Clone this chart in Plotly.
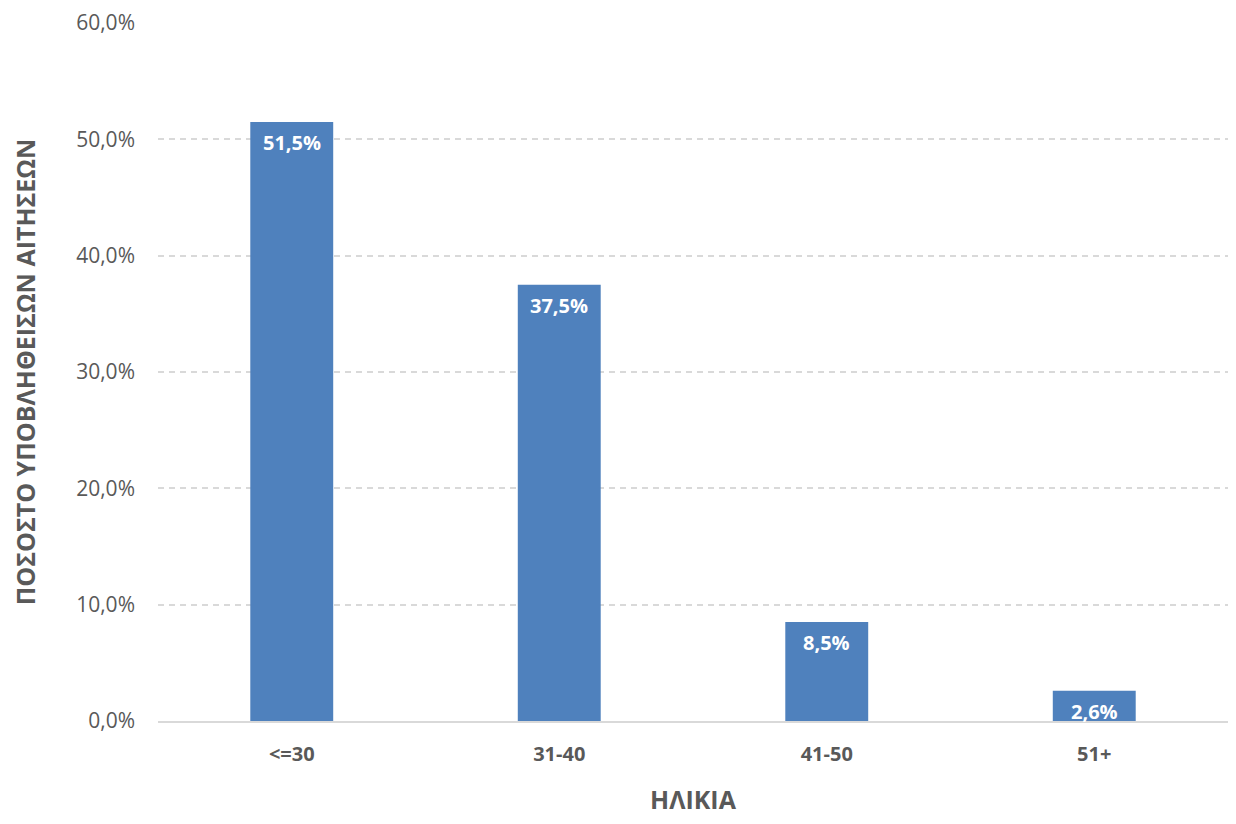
import plotly.graph_objects as go

categories = ["<=30", "31-40", "41-50", "51+"]
values = [51.5, 37.5, 8.5, 2.6]
labels = ["51,5%", "37,5%", "8,5%", "2,6%"]
y_ticks = [0, 10, 20, 30, 40, 50, 60]

FONT = "Open Sans, Noto Sans, sans-serif"
GRAY = "#595959"

fig = go.Figure(
    go.Bar(
        x=categories,
        y=values,
        marker=dict(color="#4f81bd", line=dict(width=0)),
        cliponaxis=False,
        hoverinfo="x+y",
    )
)

for cat, val, lab in zip(categories, values, labels):
    fig.add_annotation(
        x=cat,
        y=val,
        text=lab,
        showarrow=False,
        yanchor="top",
        yshift=-5,
        font=dict(family=FONT, size=20, color="white", weight="bold"),
    )

fig.update_layout(
    width=1220,
    height=808,
    margin=dict(l=150, r=0, t=15, b=95, autoexpand=False),
    plot_bgcolor="white",
    paper_bgcolor="white",
    bargap=0.69,
    separators=",.",
    showlegend=False,
    font=dict(family=FONT, color=GRAY),
)

fig.update_xaxes(
    showgrid=False,
    showline=True,
    linecolor="#d9d9d9",
    linewidth=2,
    ticks="",
    ticklabelstandoff=14,
    tickfont=dict(family=FONT, size=20, color=GRAY, weight="bold"),
    title=dict(text="ΗΛΙΚΙΑ", font=dict(family=FONT, size=25, color=GRAY, weight="bold"), standoff=36),
)

fig.update_yaxes(
    range=[0, 60],
    tickvals=y_ticks,
    ticktext=[f"{v},0%" for v in y_ticks],
    showgrid=True,
    gridcolor="#d9d9d9",
    griddash="6px,5px",
    gridwidth=1.5,
    zeroline=False,
    showline=False,
    tickfont=dict(family=FONT, size=21, color=GRAY),
    ticklabelstandoff=22,
    title=dict(text="ΠΟΣΟΣΤΟ ΥΠΟΒΛΗΘΕΙΣΩΝ ΑΙΤΗΣΕΩΝ", font=dict(family=FONT, size=25, color=GRAY, weight="bold"), standoff=40),
)

fig.write_html("out.html")
